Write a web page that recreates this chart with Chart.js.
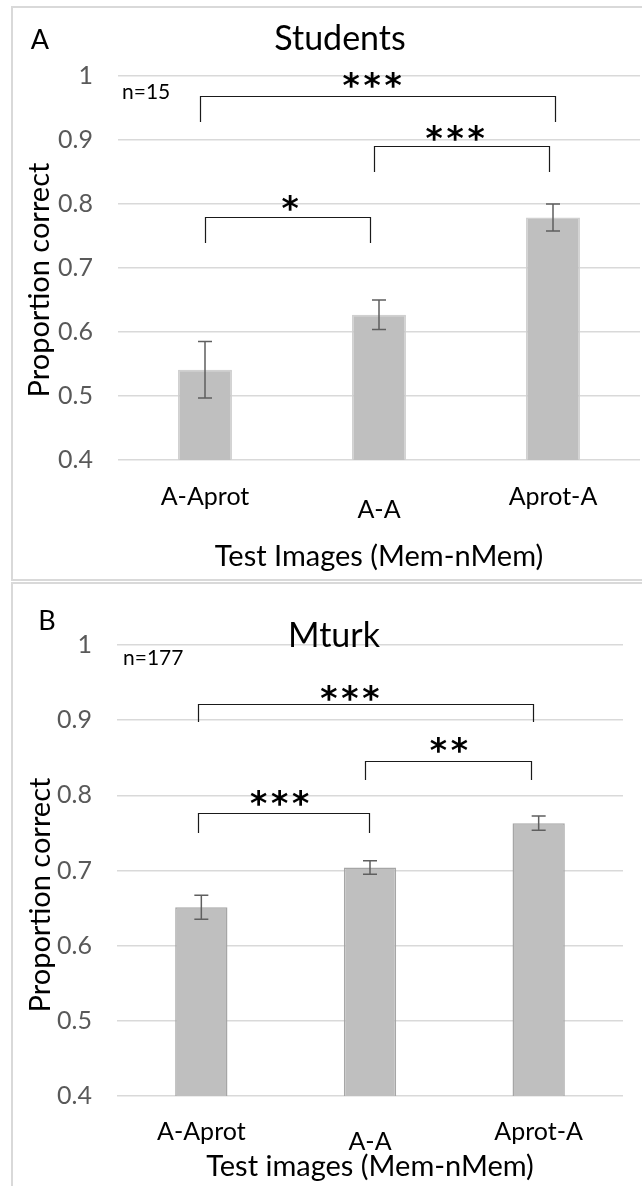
<!DOCTYPE html>
<html><head><meta charset="utf-8">
<script src="https://cdn.jsdelivr.net/npm/chart.js@4.4.1/dist/chart.umd.min.js"></script>
<style>
html,body{margin:0;padding:0;background:#fff;}
body{width:642px;height:1186px;position:relative;overflow:hidden;}
.frame{position:absolute;border:2px solid #d9d9d9;box-sizing:border-box;}
#fa{left:11px;top:6px;width:700px;height:575px;}
#fb{left:11px;top:582px;width:700px;height:700px;}
#wa{position:absolute;left:0;top:0;width:642px;height:580px;}
#wb{position:absolute;left:0;top:581px;width:642px;height:605px;}
</style></head><body>
<div class="frame" id="fa"></div><div class="frame" id="fb"></div>
<div id="wa"><canvas id="ca" width="642" height="580"></canvas></div>
<div id="wb"><canvas id="cb" width="642" height="605"></canvas></div>
<script>
// ---- data ----
const categories = ['A-Aprot', 'A-A', 'Aprot-A'];
const studentsMean = [0.541, 0.627, 0.779];
const studentsErr  = [0.044, 0.023, 0.021];
const mturkMean    = [0.651, 0.704, 0.763];
const mturkErr     = [0.016, 0.009, 0.0095];
const yTickValues  = [0.4, 0.5, 0.6, 0.7, 0.8, 0.9, 1];
// significance brackets: [fromCat, toCat, topValue, legValue, stars, starsAtCat, starsValue]
const studentsBrackets = [
  [-0.03, 2.01, 0.969, 0.928, '***', 0.96, 0.994],
  [0.97, 1.977, 0.8906, 0.85, '***', 1.437, 0.911],
  [0.0, 0.948, 0.78, 0.739, '*', 0.489, 0.8016]
];
const mturkBrackets = [
  [-0.017, 1.966, 0.9215, 0.8975, '***', 0.881, 0.936],
  [0.97, 1.954, 0.8457, 0.8204, '**', 1.468, 0.867],
  [-0.02, 0.994, 0.7765, 0.75, '***', 0.464, 0.7964]
];

const FONT = 'Lato, "Open Sans", sans-serif';

function drawVisCentered(ctx, text, cx, cy, font, color) {
  ctx.save();
  ctx.font = font; ctx.fillStyle = color;
  ctx.textAlign = 'center'; ctx.textBaseline = 'alphabetic';
  const m = ctx.measureText(text);
  const a = m.actualBoundingBoxAscent, d = m.actualBoundingBoxDescent;
  ctx.fillText(text, cx, cy + (a - d) / 2);
  ctx.restore();
}
function drawLeftCentered(ctx, text, lx, cy, font, color) {
  ctx.save();
  ctx.font = font; ctx.fillStyle = color;
  ctx.textAlign = 'left'; ctx.textBaseline = 'alphabetic';
  const m = ctx.measureText(text);
  ctx.fillText(text, lx, cy + (m.actualBoundingBoxAscent - m.actualBoundingBoxDescent) / 2);
  ctx.restore();
}

const annotPlugin = {
  id: 'annot',
  afterDatasetsDraw(chart, args, o) {
    const ctx = chart.ctx, xs = chart.scales.x, ys = chart.scales.y;
    ctx.save();
    // error bars
    ctx.strokeStyle = '#5f5f5f'; ctx.lineWidth = 1.5;
    o.means.forEach((m, i) => {
      const px = xs.getPixelForValue(i);
      const t = ys.getPixelForValue(m + o.errs[i]);
      const b = ys.getPixelForValue(m - o.errs[i]);
      ctx.beginPath();
      ctx.moveTo(px, t); ctx.lineTo(px, b);
      ctx.moveTo(px - 7, t); ctx.lineTo(px + 7, t);
      ctx.moveTo(px - 7, b); ctx.lineTo(px + 7, b);
      ctx.stroke();
    });
    // brackets
    ctx.strokeStyle = '#1a1a1a'; ctx.lineWidth = 1.2;
    o.brackets.forEach(br => {
      const x1 = Math.round(xs.getPixelForValue(br[0])) + 0.5;
      const x2 = Math.round(xs.getPixelForValue(br[1])) + 0.5;
      const yt = Math.round(ys.getPixelForValue(br[2])) + 0.5;
      const yl = ys.getPixelForValue(br[3]);
      ctx.beginPath();
      ctx.moveTo(x1, yl); ctx.lineTo(x1, yt); ctx.lineTo(x2, yt); ctx.lineTo(x2, yl);
      ctx.stroke();
      const n = br[4].length, pitch = 21;
      const cx = xs.getPixelForValue(br[5]), cy = ys.getPixelForValue(br[6]);
      for (let k = 0; k < n; k++) {
        drawVisCentered(ctx, '*', cx + (k - (n - 1) / 2) * pitch, cy, 'bold 33px "DejaVu Sans"', '#000');
      }
    });
    ctx.restore();
    // texts
    drawVisCentered(ctx, o.title, o.titleX, o.titleY, '34px ' + FONT, '#000');
    drawVisCentered(ctx, o.letter, o.letterX, o.letterY, '27px ' + FONT, '#000');
    drawLeftCentered(ctx, o.n, o.nX, o.nY, '21px ' + FONT, '#000');
    ctx.save();
    ctx.translate(o.yTitleX, o.yTitleY);
    ctx.rotate(-Math.PI / 2);
    drawVisCentered(ctx, 'Proportion correct', 0, 0, '29px ' + FONT, '#000');
    ctx.restore();
  }
};

function makeChart(id, means, errs, brackets, cfg) {
  return new Chart(document.getElementById(id), {
    type: 'bar',
    data: {
      labels: categories,
      datasets: [{
        data: means,
        backgroundColor: '#bfbfbf',
        borderColor: cfg.barBorder,
        borderWidth: 1.5,
        categoryPercentage: 1,
        barPercentage: 0.31
      }]
    },
    options: {
      responsive: false,
      animation: false,
      events: [],
      layout: { padding: { left: 0, right: cfg.padRight, top: cfg.padTop, bottom: 0 } },
      plugins: {
        legend: { display: false },
        tooltip: { enabled: false },
        annot: {
          means: means, errs: errs, brackets: brackets,
          title: cfg.title, titleX: cfg.titleX, titleY: cfg.titleY,
          letter: cfg.letter, letterX: cfg.letterX, letterY: cfg.letterY,
          n: cfg.n, nX: cfg.nX, nY: cfg.nY,
          yTitleX: cfg.yTitleX, yTitleY: cfg.yTitleY
        }
      },
      scales: {
        x: {
          grid: { display: false, drawTicks: false },
          border: { display: false },
          ticks: {
            color: '#000',
            padding: cfg.tickPad,
            maxRotation: 0,
            font: (c) => ({ family: FONT, size: 25, lineHeight: c.index === 1 ? cfg.aaLine : 1.2 })
          },
          title: {
            display: true, text: cfg.xTitle, color: '#000',
            font: { family: FONT, size: 29, lineHeight: 1.2 },
            padding: { top: 0, bottom: cfg.xTitlePad }
          },
          afterFit: (s) => { s.height = cfg.xHeight; }
        },
        y: {
          min: 0.4, max: 1,
          afterBuildTicks: (s) => { s.ticks = yTickValues.map(v => ({ value: v })); },
          grid: { color: '#d9d9d9', lineWidth: 1.5, drawTicks: false },
          border: { display: false },
          ticks: {
            color: '#595959', padding: 25,
            font: { family: FONT, size: 25 },
            callback: (v) => String(Math.round(v * 10) / 10)
          },
          afterFit: (s) => { s.width = cfg.yWidth; }
        }
      }
    },
    plugins: [annotPlugin]
  });
}

makeChart('ca', studentsMean, studentsErr, studentsBrackets, {
  barBorder: '#d0d0d0', padRight: 2, padTop: 76, yWidth: 118, xHeight: 120,
  tickPad: 22, aaLine: 2.24, xTitle: 'Test Images (Mem-nMem)', xTitlePad: 5.6,
  title: 'Students', titleX: 340, titleY: 37,
  letter: 'A', letterX: 40, letterY: 39,
  n: 'n=15', nX: 122, nY: 91,
  yTitleX: 41, yTitleY: 280
});
makeChart('cb', mturkMean, mturkErr, mturkBrackets, {
  barBorder: '#a6a6a6', padRight: 19, padTop: 64, yWidth: 117, xHeight: 90,
  tickPad: 21, aaLine: 2.0, xTitle: 'Test images (Mem-nMem)', xTitlePad: 1.6,
  title: 'Mturk', titleX: 334, titleY: 53,
  letter: 'B', letterX: 47, letterY: 39,
  n: 'n=177', nX: 123, nY: 76,
  yTitleX: 42, yTitleY: 314
});
</script>
</body></html>
